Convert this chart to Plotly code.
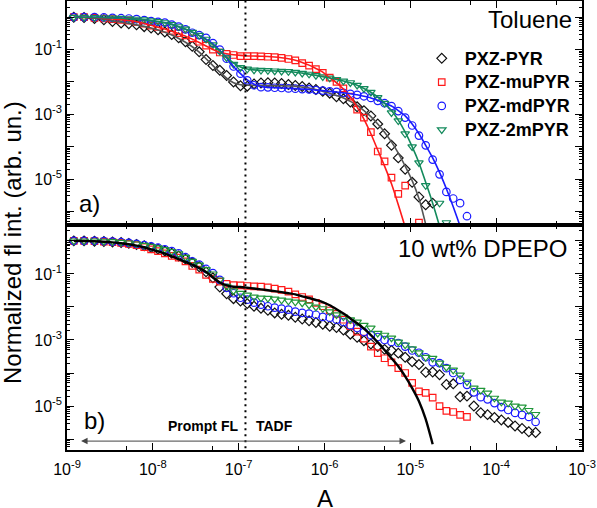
import math
import plotly.graph_objects as go
from plotly.subplots import make_subplots

# ---------------- data ----------------
# common time grid (s)
time_s = [1.20e-9, 1.58e-9, 2.09e-9, 2.69e-9, 3.39e-9, 4.27e-9, 5.25e-9, 6.46e-9, 7.94e-9, 9.55e-9,
          1.15e-8, 1.38e-8, 1.66e-8, 2.00e-8, 2.40e-8, 2.88e-8, 3.47e-8, 4.17e-8, 5.01e-8, 6.03e-8,
          7.24e-8, 8.71e-8, 1.05e-7, 1.26e-7, 1.51e-7, 1.82e-7, 2.19e-7, 2.63e-7, 3.16e-7, 3.80e-7,
          4.57e-7, 5.50e-7, 6.61e-7, 7.94e-7, 9.55e-7, 1.15e-6, 1.38e-6, 1.66e-6, 2.00e-6, 2.40e-6,
          2.88e-6, 3.47e-6, 4.17e-6, 5.01e-6, 6.03e-6, 7.24e-6, 8.71e-6, 1.05e-5, 1.26e-5, 1.51e-5,
          1.82e-5, 2.19e-5, 2.63e-5, 3.16e-5, 3.80e-5, 4.57e-5, 5.50e-5, 6.61e-5, 7.94e-5, 9.55e-5,
          1.15e-4, 1.38e-4, 1.66e-4, 2.00e-4, 2.40e-4, 2.88e-4]

series_names = ["PXZ-PYR", "PXZ-muPYR", "PXZ-mdPYR", "PXZ-2mPYR"]

# Toluene (panel a) - measured points
tol_pyr = [1.0, 0.98, 0.91, 0.83, 0.74, 0.66, 0.63, 0.58, 0.51, 0.46,
           0.41, 0.35, 0.29, 0.23, 0.174, 0.126, 0.085, 0.049, 0.032, 0.023,
           0.0158, 0.010, 0.0076, 0.0074, 0.0087, 0.0093, 0.0095, 0.0093, 0.0089, 0.0083,
           0.0078, 0.0072, 0.0065, 0.0058, 0.0051, 0.0045, 0.0035, 0.0030, 0.0024, 0.0017,
           0.0013, 8.9e-4, 5.0e-4, 2.5e-4, 1.1e-4, 4.5e-5, 2.0e-5, 7.9e-6, 2.8e-6, 1.6e-6,
           1.8e-6]
tol_mupyr = [1.0, 1.0, 0.95, 0.91, 0.87, 0.83, 0.78, 0.71, 0.63, 0.55,
             0.50, 0.44, 0.38, 0.32, 0.275, 0.22, 0.174, 0.132, 0.100, 0.081,
             0.074, 0.068, 0.063, 0.063, 0.063, 0.062, 0.060, 0.058, 0.055, 0.051,
             0.046, 0.038, 0.032, 0.025, 0.019, 0.0135, 0.010, 0.0063, 0.0035, 0.0014,
             7.9e-4, 2.8e-4, 7.1e-5, 3.5e-5, 1.1e-5, 3.5e-6, 6.3e-6, None, 4.5e-7]
tol_mdpyr = [1.0, 1.0, 1.0, 0.98, 0.95, 0.93, 0.91, 0.87, 0.81, 0.76,
             0.72, 0.68, 0.59, 0.51, 0.42, 0.33, 0.28, 0.23, 0.158, 0.10,
             0.052, 0.030, 0.018, 0.0112, 0.0079, 0.0069, 0.0068, 0.0066, 0.0065, 0.0063,
             0.0062, 0.0060, 0.0059, 0.0056, 0.0054, 0.0051, 0.0049, 0.0046, 0.0043, 0.0040,
             0.0036, 0.0032, 0.0026, 0.0022, 0.0018, 0.00126, 7.9e-4, 4.5e-4, 2.2e-4, 1.1e-4,
             4.0e-5, 1.4e-5, 4.0e-6, 2.5e-6, 1.8e-6, 7.1e-7]
tol_2mpyr = [1.0, 1.0, 0.98, 0.97, 0.95, 0.93, 0.90, 0.87, 0.83, 0.78,
             0.74, 0.68, 0.60, 0.51, 0.43, 0.34, 0.275, 0.21, 0.141, 0.089,
             0.056, 0.035, 0.028, 0.025, 0.0234, 0.0229, 0.0224, 0.0219, 0.0214, 0.0209,
             0.020, 0.0186, 0.0174, 0.0158, 0.0145, 0.0132, 0.012, 0.0107, 0.0095, 0.0079,
             0.0063, 0.0048, 0.0033, 0.0022, 0.00112, 6.3e-4, 2.5e-4, 1.0e-4, 3.2e-5, 6.3e-6,
             None, 1.8e-6, 4.5e-7]

# Toluene (panel a) - fit curves
fit_tol_pyr = [1.0, 0.98, 0.93, 0.86, 0.78, 0.70, 0.64, 0.58, 0.52, 0.46,
               0.40, 0.34, 0.28, 0.22, 0.168, 0.122, 0.083, 0.052, 0.032, 0.020,
               0.013, 0.0095, 0.0082, 0.0079, 0.0078, 0.0078, 0.0077, 0.0077, 0.0076, 0.0075,
               0.0074, 0.0069, 0.0065, 0.0058, 0.0051, 0.0045, 0.0038, 0.0032, 0.0025, 0.0019,
               0.0013, 8.5e-4, 5.0e-4, 2.8e-4, 1.4e-4, 6.3e-5, 2.5e-5, 8.9e-6, 2.5e-6, 4.0e-7,
               5.0e-8]
fit_tol_mupyr = [1.0, 0.99, 0.96, 0.92, 0.88, 0.84, 0.79, 0.72, 0.64, 0.56,
                 0.49, 0.43, 0.37, 0.31, 0.26, 0.21, 0.165, 0.128, 0.100, 0.083,
                 0.074, 0.069, 0.066, 0.064, 0.063, 0.062, 0.061, 0.059, 0.056, 0.052,
                 0.047, 0.040, 0.033, 0.026, 0.020, 0.0135, 0.0095, 0.0060, 0.0034, 0.00166,
                 7.1e-4, 2.5e-4, 7.9e-5, 2.5e-5, 7.1e-6, 1.6e-6, 3.2e-7, 5.0e-8]
fit_tol_mdpyr = [1.0, 1.0, 0.99, 0.98, 0.96, 0.94, 0.91, 0.87, 0.82, 0.77,
                 0.72, 0.67, 0.60, 0.51, 0.42, 0.34, 0.27, 0.21, 0.15, 0.095,
                 0.055, 0.030, 0.018, 0.0115, 0.0085, 0.0072, 0.0068, 0.0066, 0.0065, 0.0063,
                 0.0062, 0.0060, 0.0059, 0.0056, 0.0054, 0.0051, 0.0049, 0.0046, 0.0043, 0.0040,
                 0.0036, 0.0032, 0.0027, 0.0022, 0.0018, 0.0013, 8.9e-4, 5.0e-4, 2.5e-4, 1.1e-4,
                 4.5e-5, 1.6e-5, 5.0e-6, 1.4e-6, 3.5e-7, 8.0e-8]
fit_tol_2mpyr = [1.0, 1.0, 0.99, 0.97, 0.95, 0.93, 0.90, 0.87, 0.83, 0.78,
                 0.73, 0.67, 0.60, 0.51, 0.43, 0.35, 0.27, 0.20, 0.14, 0.09,
                 0.057, 0.038, 0.029, 0.025, 0.0235, 0.0228, 0.0223, 0.0218, 0.0213, 0.0207,
                 0.020, 0.0187, 0.0174, 0.0159, 0.0145, 0.0132, 0.012, 0.0107, 0.0094, 0.0079,
                 0.0063, 0.0048, 0.0034, 0.0022, 0.0013, 6.6e-4, 2.8e-4, 1.0e-4, 3.2e-5, 7.9e-6,
                 1.8e-6, 3.5e-7, 6.0e-8]

# 10 wt% DPEPO (panel b) - measured points
film_pyr = [1.0, 1.0, 0.98, 0.96, 0.93, 0.89, 0.84, 0.78, 0.71, 0.63,
            0.56, 0.49, 0.42, 0.35, 0.28, 0.22, 0.165, 0.115, 0.076, 0.040,
            0.025, 0.0178, 0.0151, 0.0126, 0.0105, 0.0091, 0.0079, 0.0066, 0.0060, 0.0056,
            0.0049, 0.0043, 0.0038, 0.0034, 0.0030, 0.0026, 0.0024, 0.0020, 0.0015, 0.0012,
            9.5e-4, 7.6e-4, 6.3e-4, 5.2e-4, 4.8e-4, 4.0e-4, 3.0e-4, 2.2e-4, 1.8e-4, 1.05e-4,
            1.07e-4, 8.9e-5, 4.5e-5, 4.7e-5, 1.9e-5, 2.0e-5, 1.0e-5, 6.3e-6, 5.5e-6, 4.5e-6,
            3.8e-6, 3.2e-6, 2.5e-6, 2.1e-6, 1.66e-6, 1.58e-6]
film_mupyr = [1.0, 1.0, 0.98, 0.95, 0.91, 0.87, 0.81, 0.74, 0.65, 0.55,
              0.49, 0.42, 0.35, 0.31, 0.24, 0.174, 0.135, 0.093, 0.071, 0.058,
              0.050, 0.046, 0.045, 0.043, 0.042, 0.041, 0.039, 0.036, 0.033, 0.029,
              0.024, 0.020, 0.017, 0.0132, 0.0105, 0.0078, 0.0062, 0.0041, 0.0026, 0.0018,
              0.0011, 6.3e-4, 4.0e-4, 2.8e-4, 2.1e-4, 1.4e-4, 1.0e-4, 5.0e-5, 2.8e-5, 2.5e-5,
              1.8e-5, 1.0e-5, 7.1e-6, 6.6e-6, 5.4e-6, 4.7e-6]
film_mdpyr = [1.0, 1.0, 1.0, 0.98, 0.95, 0.91, 0.87, 0.81, 0.74, 0.68,
              0.62, 0.55, 0.49, 0.42, 0.32, 0.24, 0.19, 0.141, 0.105, 0.066,
              0.038, 0.026, 0.019, 0.0166, 0.0135, 0.0117, 0.0105, 0.0095, 0.0089, 0.0083,
              0.0072, 0.0066, 0.0063, 0.0058, 0.0050, 0.0047, 0.0041, 0.0035, 0.0028, 0.0023,
              0.00174, 0.0014, 0.00123, 0.0010, 8.7e-4, 8.1e-4, 6.3e-4, 4.8e-4, 4.1e-4, 3.0e-4,
              2.1e-4, 2.0e-4, 1.4e-4, 1.0e-4, 6.2e-5, 4.4e-5, 2.6e-5, 1.86e-5, 1.6e-5, 1.23e-5,
              9.3e-6, 7.6e-6, 6.2e-6, 5.4e-6, 4.7e-6, 3.3e-6]
film_2mpyr = [1.0, 1.0, 1.0, 0.98, 0.95, 0.91, 0.87, 0.81, 0.74, 0.68,
              0.62, 0.55, 0.48, 0.41, 0.32, 0.24, 0.185, 0.135, 0.10, 0.066,
              0.042, 0.031, 0.026, 0.023, 0.020, 0.0186, 0.0182, 0.0174, 0.0162, 0.0151,
              0.0141, 0.0132, 0.0115, 0.010, 0.0089, 0.0071, 0.0058, 0.0050, 0.0041, 0.0035,
              0.0028, 0.0023, 0.0016, 0.0014, 0.00115, 8.7e-4, 7.1e-4, 5.4e-4, 4.1e-4, 3.0e-4,
              2.8e-4, 2.0e-4, 1.5e-4, 1.23e-4, 8.7e-5, 5.4e-5, 3.5e-5, 3.0e-5, 2.5e-5, 1.74e-5,
              1.32e-5, 1.23e-5, 1.0e-5, 9.3e-6, 7.4e-6, 5.6e-6]

# 10 wt% DPEPO (panel b) - fit curve
fit_film = [1.0, 0.99, 0.97, 0.94, 0.90, 0.85, 0.79, 0.72, 0.64, 0.55,
            0.48, 0.41, 0.34, 0.28, 0.23, 0.19, 0.15, 0.115, 0.078, 0.055,
            0.045, 0.041, 0.040, 0.038, 0.036, 0.034, 0.032, 0.030, 0.028, 0.026,
            0.024, 0.021, 0.0186, 0.0162, 0.014, 0.0112, 0.0085, 0.0063, 0.0045, 0.0032,
            0.0022, 0.0014, 8.5e-4, 5.0e-4, 2.8e-4, 1.6e-4, 7.9e-5, 3.5e-5, 1.4e-5, 4.0e-6,
            7.0e-7]

prompt_tadf_boundary = 1.2e-7      # s, dotted separator
arrow_span = [1.4e-9, 8.9e-6]      # s, double arrow extent
arrow_level = 8.7e-7               # intensity level of the arrow

x_tick_vals = [1e-9, 1e-8, 1e-7, 1e-6, 1e-5, 1e-4, 1e-3]
x_tick_text = ["10<sup>-9</sup>", "10<sup>-8</sup>", "10<sup>-7</sup>", "10<sup>-6</sup>",
               "10<sup>-5</sup>", "10<sup>-4</sup>", "10<sup>-3</sup>"]
y_tick_vals = [1e-7, 1e-6, 1e-5, 1e-4, 1e-3, 1e-2, 1e-1, 1e0]
y_tick_text = ["", "", "10<sup>-5</sup>", "", "10<sup>-3</sup>", "", "10<sup>-1</sup>", ""]

# ---------------- styling ----------------
colors_top = ["#111111", "#ff1a1a", "#1a1aff", "#138a5c"]
colors_bot = ["#111111", "#ff1a1a", "#1a1aff", "#20963a"]
fit_colors_top = ["#555555", "#ff1a1a", "#1a1aff", "#138a5c"]
symbols = ["diamond-open", "square-open", "circle-open", "triangle-down-open"]
sizes = [7.5, 6.5, 7.5, 7.5]
FONT = "Liberation Sans, Arial, sans-serif"

fig = make_subplots(rows=2, cols=1, shared_xaxes=True, vertical_spacing=0)

tol_data = [tol_pyr, tol_mupyr, tol_mdpyr, tol_2mpyr]
tol_fits = [fit_tol_pyr, fit_tol_mupyr, fit_tol_mdpyr, fit_tol_2mpyr]
film_data = [film_pyr, film_mupyr, film_mdpyr, film_2mpyr]

for i, ys in enumerate(tol_data):
    fig.add_trace(go.Scatter(x=time_s[:len(ys)], y=ys, mode="markers",
                             name="<span style='font-size:18px'>" + series_names[i] + "</span>",
                             marker=dict(symbol=symbols[i], size=sizes[i], color=colors_top[i],
                                         line=dict(width=1.2, color=colors_top[i])),
                             showlegend=True), row=1, col=1)
for i, ys in enumerate(tol_fits):
    fig.add_trace(go.Scatter(x=time_s[:len(ys)], y=ys, mode="lines",
                             line=dict(color=fit_colors_top[i], width=1.6, shape="spline", smoothing=0.6),
                             showlegend=False, hoverinfo="skip"), row=1, col=1)

for i, ys in enumerate(film_data):
    fig.add_trace(go.Scatter(x=time_s[:len(ys)], y=ys, mode="markers", name=series_names[i],
                             marker=dict(symbol=symbols[i], size=sizes[i], color=colors_bot[i],
                                         line=dict(width=1.2, color=colors_bot[i])),
                             showlegend=False), row=2, col=1)
fig.add_trace(go.Scatter(x=time_s[:len(fit_film)], y=fit_film, mode="lines",
                         line=dict(color="#000000", width=2.4, shape="spline", smoothing=0.6),
                         showlegend=False, hoverinfo="skip"), row=2, col=1)

# dotted separator in both panels
for r in (1, 2):
    fig.add_trace(go.Scatter(x=[prompt_tadf_boundary, prompt_tadf_boundary], y=[1e-9, 10],
                             mode="lines", line=dict(color="black", width=2, dash="2px,4px"),
                             showlegend=False, hoverinfo="skip"), row=r, col=1)

minor_x = [5 * 10.0 ** e for e in range(-9, -3)]
minor_y = [m * 10.0 ** e for e in range(-8, 1) for m in range(2, 10)]

axis_common = dict(type="log", showline=True, linecolor="black", linewidth=1.5, mirror="allticks",
                   ticks="inside", ticklen=7, tickwidth=1.3, tickcolor="black", showgrid=False,
                   zeroline=False, automargin=False,
                   tickfont=dict(family=FONT, size=16, color="black"))

fig.update_xaxes(**axis_common, range=[-9, -3], tickmode="array", tickvals=x_tick_vals,
                 ticktext=x_tick_text,
                 minor=dict(tickmode="array", tickvals=minor_x, ticks="inside", ticklen=4,
                            tickwidth=1.2, tickcolor="black"))
fig.update_xaxes(showticklabels=False, row=1, col=1)
fig.update_xaxes(showticklabels=True, ticklabelstandoff=4, row=2, col=1)

fig.update_yaxes(**axis_common, tickmode="array", tickvals=y_tick_vals, ticktext=y_tick_text,
                 minor=dict(tickmode="array", tickvals=minor_y, ticks="inside", ticklen=3,
                            tickwidth=1, tickcolor="black"))
split = 225 / 449
fig.update_yaxes(range=[-6.42, 0.5], domain=[split, 1], row=1, col=1)
fig.update_yaxes(range=[-6.33, 0.48], domain=[0, split], row=2, col=1)

annotations = [
    dict(text="Toluene", x=0.984, y=0.958, xref="paper", yref="paper", xanchor="right",
         yanchor="middle", showarrow=False, font=dict(family=FONT, size=24, color="black")),
    dict(text="10 wt% DPEPO", x=0.974, y=0.448, xref="paper", yref="paper", xanchor="right",
         yanchor="middle", showarrow=False, font=dict(family=FONT, size=24, color="black")),
    dict(text="a)", x=0.019, y=0.55, xref="paper", yref="paper", xanchor="left",
         yanchor="middle", showarrow=False, font=dict(family=FONT, size=24, color="black")),
    dict(text="b)", x=0.029, y=0.0646, xref="paper", yref="paper", xanchor="left",
         yanchor="middle", showarrow=False, font=dict(family=FONT, size=24, color="black")),
    dict(text="<b>Prompt FL</b>", x=0.336, y=0.0535, xref="paper", yref="paper", xanchor="right",
         yanchor="middle", showarrow=False, font=dict(family=FONT, size=14, color="black")),
    dict(text="<b>TADF</b>", x=0.363, y=0.0535, xref="paper", yref="paper", xanchor="left",
         yanchor="middle", showarrow=False, font=dict(family=FONT, size=14, color="black")),
    dict(text="Normalized fl int. (arb. un.)", x=-0.107, y=0.463, xref="paper", yref="paper",
         xanchor="center", yanchor="middle", textangle=-90, showarrow=False,
         font=dict(family=FONT, size=24, color="black")),
    dict(text="A", x=0.501, y=-0.107, xref="paper", yref="paper", xanchor="center",
         yanchor="middle", showarrow=False, font=dict(family=FONT, size=24, color="black")),
    dict(text="", x=math.log10(arrow_span[1]), y=math.log10(arrow_level), xref="x2", yref="y2",
         ax=math.log10(arrow_span[0]), ay=math.log10(arrow_level), axref="x2", ayref="y2",
         showarrow=True, arrowhead=2, arrowside="end+start", arrowsize=1.3, arrowwidth=1,
         arrowcolor="#444444"),
]
fig.update_layout(annotations=annotations)

fig.update_layout(
    width=597, height=508,
    margin=dict(l=67, r=15, t=1, b=58, autoexpand=False),
    plot_bgcolor="white", paper_bgcolor="white",
    font=dict(family=FONT, color="black"),
    legend=dict(x=0.683, y=0.91, xanchor="left", yanchor="top", bgcolor="rgba(0,0,0,0)",
                font=dict(family=FONT, size=16, color="black", weight="bold"),
                itemwidth=36, tracegroupgap=0),
)

fig.write_html("out.html", config={"displayModeBar": False},
               post_script="document.body.style.margin='0';document.body.style.overflow='hidden';")
